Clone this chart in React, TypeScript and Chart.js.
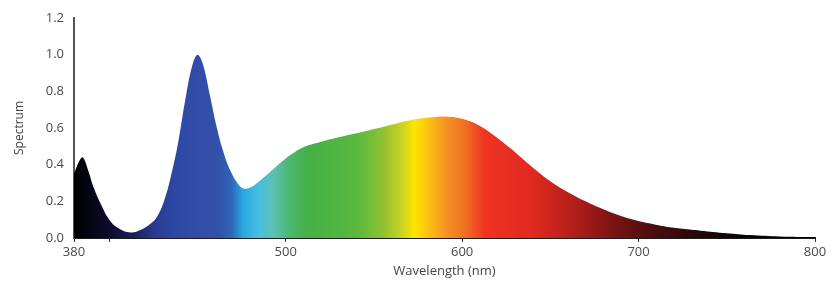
import React, { useEffect, useRef } from "react";
import { Chart, registerables } from "chart.js";

Chart.register(...registerables);

const wavelengths = [380, 383, 385, 388, 391, 395, 400, 405, 412, 418, 423, 427, 431, 435, 439, 443, 447, 450, 453, 457, 461, 465, 469, 473, 476, 480, 485, 490, 497, 503, 510, 518, 530, 544, 555, 565, 575, 585, 592, 598, 605, 612, 620, 631, 640, 650, 660, 669, 678, 688, 697, 706, 715, 725, 735, 750, 763, 780, 800];
const spectrum = [0.35, 0.42, 0.44, 0.37, 0.28, 0.19, 0.1, 0.055, 0.03, 0.045, 0.075, 0.115, 0.2, 0.34, 0.52, 0.75, 0.94, 1.0, 0.95, 0.78, 0.6, 0.46, 0.36, 0.295, 0.27, 0.275, 0.31, 0.35, 0.41, 0.455, 0.495, 0.52, 0.55, 0.58, 0.605, 0.63, 0.65, 0.66, 0.662, 0.655, 0.635, 0.6, 0.545, 0.46, 0.385, 0.31, 0.25, 0.205, 0.165, 0.127, 0.1, 0.08, 0.063, 0.05, 0.04, 0.026, 0.016, 0.008, 0.004];
const xTickValues = [380, 400, 500, 600, 700, 800];
const xTickLabels = ["380", "", "500", "600", "700", "800"];
const yTickLabels = ["0.0", "0.2", "0.4", "0.6", "0.8", "1.0", "1.2"];

const colorStops: [number, string][] = [
  [380, "#000000"],
  [400, "#0b0b2e"],
  [415, "#1b2160"],
  [425, "#283a8e"],
  [440, "#2f4aa6"],
  [462, "#3451a9"],
  [469, "#2d64b8"],
  [476, "#2aa9e2"],
  [485, "#45bfe0"],
  [493, "#5fc0b2"],
  [502, "#4bb872"],
  [512, "#45b046"],
  [540, "#58b840"],
  [555, "#8fc131"],
  [566, "#c9d421"],
  [573, "#fde600"],
  [581, "#fbc112"],
  [591, "#f59222"],
  [601, "#f07322"],
  [613, "#ee3321"],
  [640, "#e02a21"],
  [660, "#b9201b"],
  [680, "#8a1616"],
  [700, "#5a1010"],
  [730, "#2a0808"],
  [762, "#050303"],
  [800, "#000000"],
];

export default function App() {
  const ref = useRef<HTMLCanvasElement | null>(null);
  useEffect(() => {
    if (!ref.current) return;
    const fontFamily = "'Open Sans', 'DejaVu Sans', sans-serif";
    const chart = new Chart(ref.current, {
      type: "line",
      data: {
        datasets: [
          {
            data: wavelengths.map((w, i) => ({ x: w, y: spectrum[i] })),
            fill: "origin",
            borderWidth: 0,
            pointRadius: 0,
            tension: 0.4,
            backgroundColor: (ctx: any) => {
              const c = ctx.chart;
              const { chartArea, scales } = c;
              if (!chartArea || !scales.x) return "#333";
              const x0 = scales.x.getPixelForValue(380);
              const x1 = scales.x.getPixelForValue(800);
              const g = c.ctx.createLinearGradient(x0, 0, x1, 0);
              colorStops.forEach(([w, col]) => g.addColorStop((w - 380) / 420, col));
              return g;
            },
          },
        ],
      },
      options: {
        animation: false,
        responsive: true,
        maintainAspectRatio: false,
        layout: { padding: { top: 18, right: 20, left: 0, bottom: 0 } },
        plugins: { legend: { display: false }, tooltip: { enabled: false } },
        scales: {
          x: {
            type: "linear",
            min: 380,
            max: 800,
            afterBuildTicks: (s: any) => {
              s.ticks = xTickValues.map((v) => ({ value: v }));
            },
            afterFit: (s: any) => {
              s.height = 58;
            },
            ticks: {
              autoSkip: false,
              maxRotation: 0,
              padding: 2,
              color: "#4a4a4a",
              font: { family: fontFamily, size: 13 },
              callback: (v: any) => xTickLabels[xTickValues.indexOf(Number(v))] ?? "",
            },
            grid: { drawOnChartArea: false, drawTicks: true, tickLength: 4, color: "#333" },
            border: { display: true, color: "#1a1a1a", width: 2 },
            title: {
              display: true,
              text: "Wavelength (nm)",
              color: "#444",
              font: { family: fontFamily, size: 13 },
              padding: { top: 0, bottom: 17 },
            },
          },
          y: {
            min: 0,
            max: 1.2,
            afterFit: (s: any) => {
              s.width = 74;
            },
            ticks: {
              stepSize: 0.2,
              padding: 10,
              color: "#4a4a4a",
              font: { family: fontFamily, size: 13 },
              callback: (v: any) => yTickLabels[Math.round(Number(v) / 0.2)] ?? "",
            },
            grid: { display: false, drawTicks: false },
            border: { display: true, color: "#555", width: 2 },
            title: {
              display: true,
              text: "Spectrum",
              color: "#444",
              font: { family: fontFamily, size: 12 },
              padding: { top: 12, bottom: 0 },
            },
          },
        },
      },
    } as any);
    return () => chart.destroy();
  }, []);
  return (
    <div style={{ position: "fixed", left: 0, top: 0, width: 835, height: 296, background: "#fff" }}>
      <canvas ref={ref} />
    </div>
  );
}
